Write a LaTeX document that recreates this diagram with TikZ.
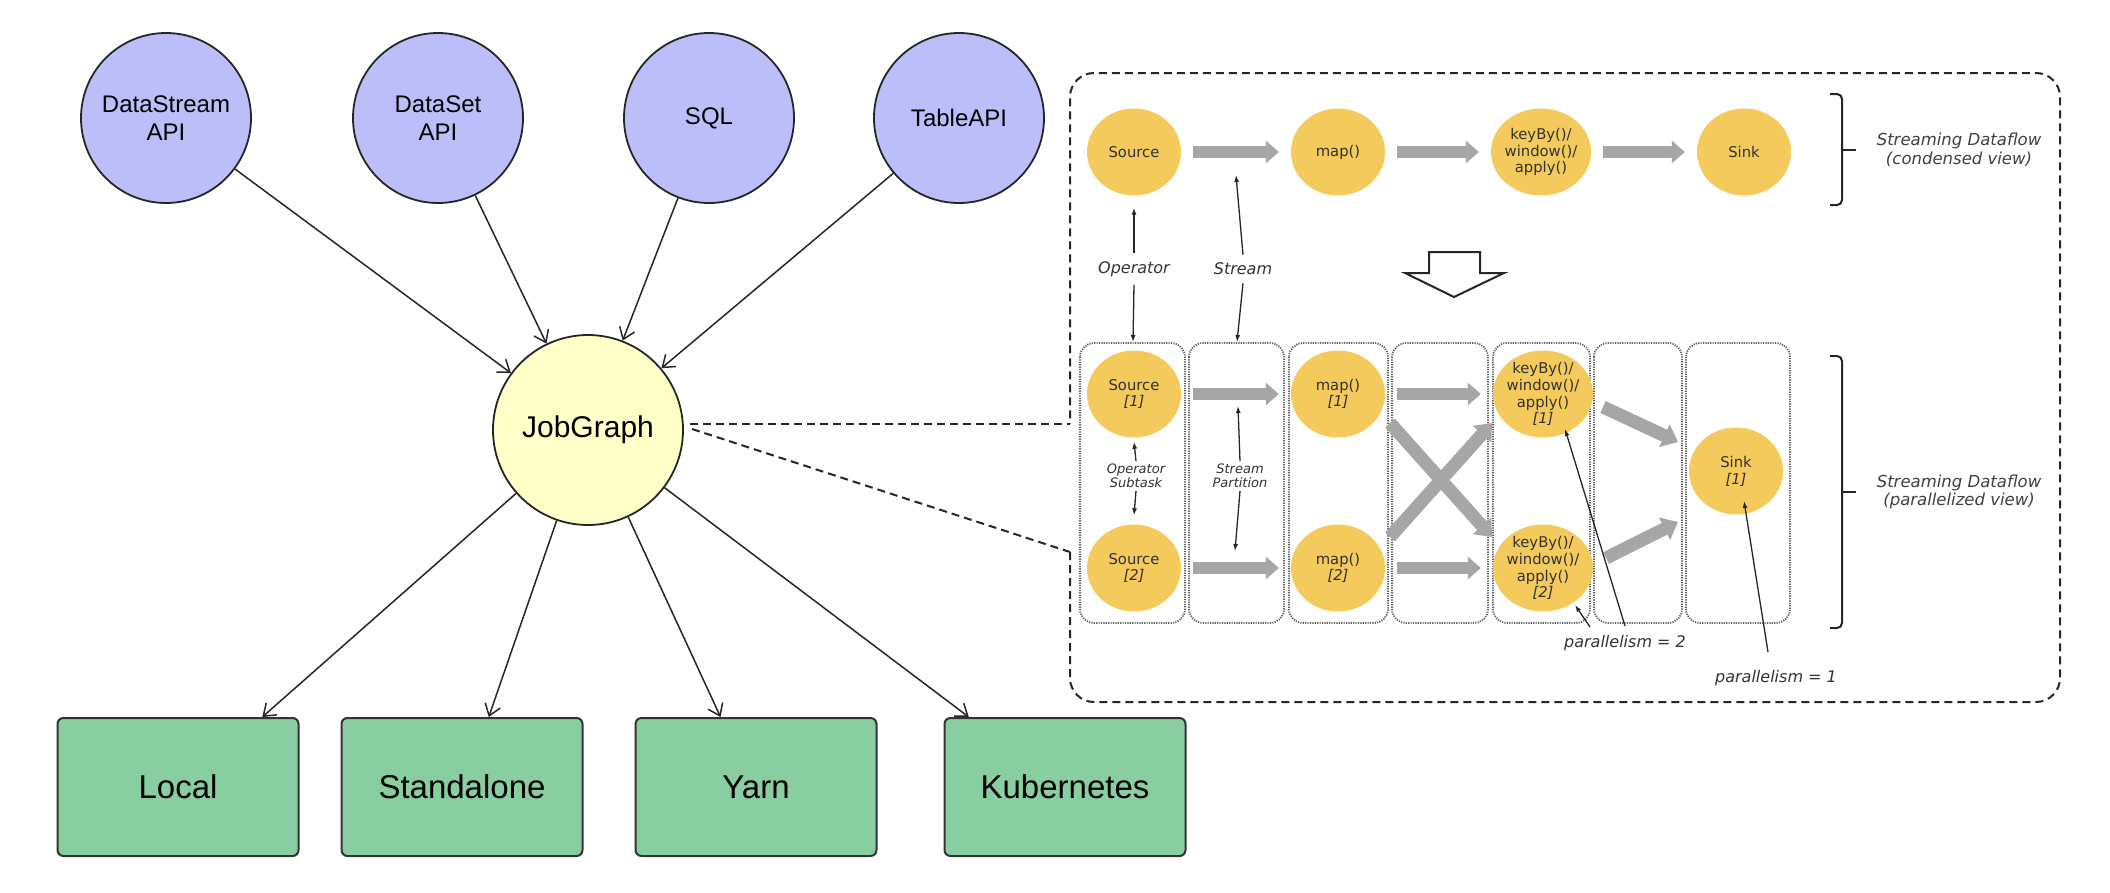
\documentclass[tikz,border=0pt]{standalone}
\usepackage{fontspec}
\setmainfont{Liberation Sans}
\newfontfamily\dvs{DejaVu Sans}
\usetikzlibrary{arrows.meta,shapes.geometric,calc}
\definecolor{apiblue}{RGB}{187,190,248}
\definecolor{jgyel}{RGB}{255,255,200}
\definecolor{dgreen}{RGB}{137,206,160}
\definecolor{opyel}{RGB}{245,202,92}
\definecolor{fatgray}{RGB}{166,166,166}
\definecolor{txtgray}{RGB}{51,51,51}
\definecolor{dotgray}{RGB}{95,95,95}
\tikzset{
  api/.style={circle, draw=black!85, line width=1.8pt, fill=apiblue, minimum size=170pt, inner sep=0pt, align=center, font=\fontsize{24}{28}\selectfont},
  jgnode/.style={circle, draw=black!85, line width=1.8pt, fill=jgyel, minimum size=190pt, inner sep=0pt, font=\fontsize{30}{34}\selectfont},
  deploy/.style={rectangle, rounded corners=6pt, draw=black!80, line width=2pt, fill=dgreen, minimum width=241pt, minimum height=138pt, font=\fontsize{33}{38}\selectfont},
  leftarr/.style={line width=1.5pt, draw=black!85, -{Straight Barb[length=11pt,width=16pt,line width=1.5pt]}},
  optxt/.style={align=center, text=txtgray, font=\dvs\fontsize{14.8}{16.7}\selectfont, inner sep=0pt},
  op/.style={ellipse, fill=opyel, minimum width=94pt, minimum height=87pt, inner sep=0pt, label={[optxt]center:{#1}}},
  opw/.style={ellipse, fill=opyel, minimum width=100pt, minimum height=87pt, inner sep=0pt, label={[optxt]center:{#1}}},
  fat/.style={line width=12pt, draw=fatgray, shorten <=12pt, shorten >=12pt, -{Triangle[width=22pt,length=13pt]}},
  fatx/.style={line width=13pt, draw=fatgray, -{Triangle[width=24pt,length=15pt]}},
  thinar/.style={line width=1.3pt, draw=black!85, -{Latex[length=7pt,width=5pt]}},
  lab/.style={font=\dvs\itshape\fontsize{16}{19}\selectfont, text=txtgray, inner xsep=0pt, inner ysep=8pt},
  lab2/.style={font=\dvs\itshape\fontsize{13}{13.5}\selectfont, text=txtgray, align=center, inner xsep=0pt, inner ysep=3pt},
  sdlab/.style={font=\dvs\itshape\fontsize{16.5}{18.5}\selectfont, text=black!75, align=center, inner sep=0pt},
  colbox/.style={draw=dotgray, line width=1.8pt, dash pattern=on 1.2pt off 1.2pt, rounded corners=14pt},
  dline/.style={draw=black!85, line width=2pt, dash pattern=on 8pt off 5pt},
  brace/.style={draw=black!85, line width=2pt, rounded corners=5pt}
}
\begin{document}
\begin{tikzpicture}[x=1pt,y=-1pt]
\useasboundingbox (0,0) rectangle (2110,892);
\fill[white] (0,0) rectangle (2110,892);

% ---------- left part ----------
\node[api] (ds) at (166,118) {DataStream\\API};
\node[api] (dset) at (438,118) {DataSet\\API};
\node[api] (sql) at (709,118) {SQL};
\node[api] (tab) at (959,118) {TableAPI};
\node[jgnode] (jg) at (588,430) {JobGraph};
\node[deploy] (loc) at (178,787) {Local};
\node[deploy] (sta) at (462,787) {Standalone};
\node[deploy] (yarn) at (756,787) {Yarn};
\node[deploy] (k8s) at (1065,787) {Kubernetes};

\foreach \n in {ds,dset,sql,tab} \draw[leftarr] (\n) -- (jg);
\draw[leftarr] (jg) -- ($(loc.north west)!0.847!(loc.north east)$);
\draw[leftarr] (jg) -- ($(sta.north west)!0.61!(sta.north east)$);
\draw[leftarr] (jg) -- ($(yarn.north west)!0.354!(yarn.north east)$);
\draw[leftarr] (jg) -- ($(k8s.north west)!0.104!(k8s.north east)$);

% ---------- dashed frame ----------
\coordinate (ftop) at (1070,424);
\coordinate (fbot) at (1070,552);
\coordinate (jgp1) at (690,424);
\coordinate (jgp2) at (692,429);
\draw[dline, rounded corners=24pt] (fbot) -- (1070,702) -- (2060,702) -- (2060,73) -- (1070,73) -- (ftop);
\draw[dline] (jgp1) -- (ftop);
\draw[dline] (jgp2) -- (fbot);

% ---------- column boxes ----------
\draw[colbox] (1080,343) rectangle (1185,623);
\draw[colbox] (1189,343) rectangle (1284,623);
\draw[colbox] (1289,343) rectangle (1388,623);
\draw[colbox] (1392,343) rectangle (1488,623);
\draw[colbox] (1493,343) rectangle (1590,623);
\draw[colbox] (1594,343) rectangle (1682,623);
\draw[colbox] (1686,343) rectangle (1790,623);

% ---------- condensed view ----------
\node[op={Source}] (s0) at (1134,152) {};
\node[op={map()}] (m0) at (1338,152) {};
\node[opw={keyBy()/\\window()/\\apply()}] (k0) at (1541,152) {};
\node[op={Sink}] (sk0) at (1744,152) {};
\draw[fat] (s0) -- (m0);
\draw[fat] (m0) -- (k0);
\draw[fat] (k0) -- (sk0);

% ---------- parallel view ----------
\node[op={Source\\\itshape [1]}] (s1) at (1134,394) {};
\node[op={Source\\\itshape [2]}] (s2) at (1134,568) {};
\node[op={map()\\\itshape [1]}] (m1) at (1338,394) {};
\node[op={map()\\\itshape [2]}] (m2) at (1338,568) {};
\node[opw={keyBy()/\\window()/\\apply()\\\itshape [1]}] (k1) at (1543,394) {};
\node[opw={keyBy()/\\window()/\\apply()\\\itshape [2]}] (k2) at (1543,568) {};
\node[op={Sink\\\itshape [1]}] (sk1) at (1736,471) {};
\draw[fat] (s1) -- (m1);
\draw[fat] (m1) -- (k1);
\draw[fat] (s2) -- (m2);
\draw[fat] (m2) -- (k2);
\draw[fatx] ($(m1)+(52,29)$) -- ($(k2)+(-51,-31)$);
\draw[fatx] ($(m2)+(52,-31)$) -- ($(k1)+(-51,29)$);
\draw[fatx] ($(k1)+(60,13)$) -- ($(sk1)+(-58,-29)$);
\draw[fatx] ($(k2)+(63,-10)$) -- ($(sk1)+(-58,51)$);

% ---------- hollow arrow ----------
\draw[draw=black!85, line width=2pt, fill=white, line join=miter]
  (1429,252) -- (1480,252) -- (1480,273) -- (1504,273) -- (1454,297) -- (1405,273) -- (1429,273) -- cycle;

% ---------- labels & pointers ----------
\node[lab] (oplab) at (1134,269) {Operator};
\node[lab] (stlab) at (1243,269) {Stream};
\coordinate (c1top) at (1133,342);
\coordinate (c2top) at (1237,342);
\coordinate (fatbot) at (1236,175);
\draw[thinar] (oplab.north) -- ([yshift=-12pt]s0.south);
\draw[thinar] (oplab.south) -- (c1top);
\draw[thinar] (stlab.north) -- (fatbot);
\draw[thinar] (stlab.south) -- (c2top);

\node[lab2] (osl) at (1136,476) {Operator\\Subtask};
\node[lab2] (spl) at (1240,476) {Stream\\Partition};
\coordinate (fatbot2) at (1238,406);
\coordinate (fattop2) at (1235,551);
\draw[thinar] (osl.north) -- ([yshift=-4pt]s1.south);
\draw[thinar] (osl.south) -- ([yshift=9pt]s2.north);
\draw[thinar] (spl.north) -- (fatbot2);
\draw[thinar] (spl.south) -- (fattop2);

\node[lab, inner ysep=0pt] (p2) at (1625,643) {parallelism = 2};
\node[lab, inner ysep=0pt] (p1) at (1776,678) {parallelism = 1};
\coordinate (p2a) at (1590,627);
\coordinate (p2b) at (1625,626);
\coordinate (p1a) at (1768,652);
\draw[thinar] (p2a) -- ($(k2)+(32,37)$);
\draw[thinar] (p2b) -- ($(k1)+(22,35)$);
\draw[thinar] (p1a) -- ($(sk1)+(8,30)$);

% ---------- braces ----------
\draw[brace] (1830,94) -- (1842,94) -- (1842,205) -- (1830,205);
\draw[draw=black!85, line width=2pt] (1842,150) -- (1856,150);
\draw[brace] (1830,356) -- (1842,356) -- (1842,628) -- (1830,628);
\draw[draw=black!85, line width=2pt] (1842,492) -- (1856,492);
\node[sdlab] (sd1) at (1959,150) {Streaming Dataflow\\(condensed view)};
\node[sdlab] (sd2) at (1959,492) {Streaming Dataflow\\(parallelized view)};
\end{tikzpicture}
\end{document}
